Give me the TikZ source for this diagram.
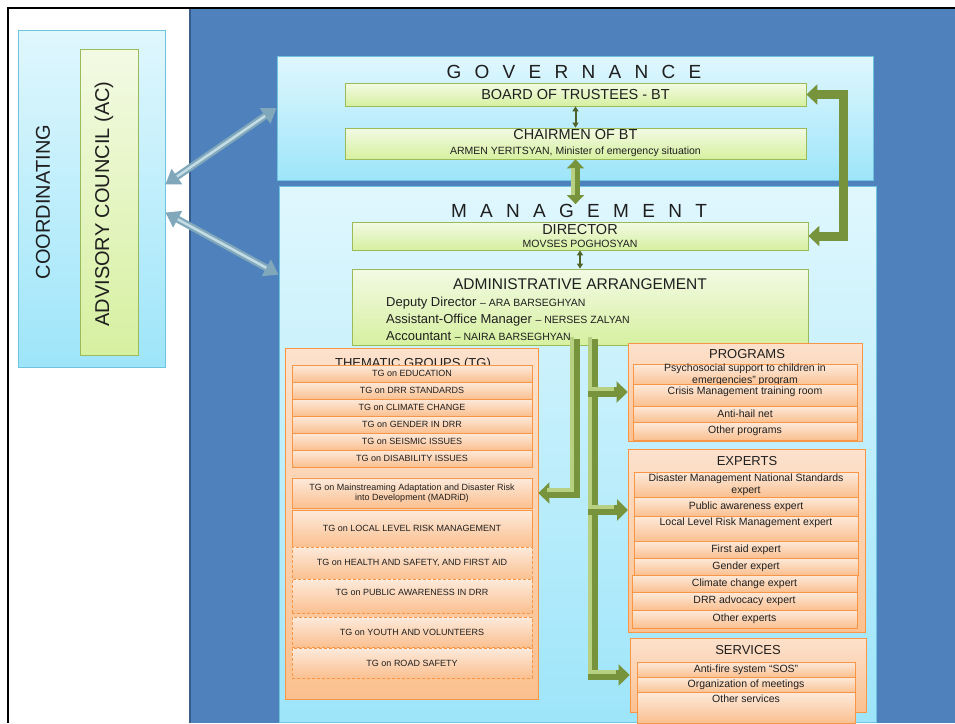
\documentclass[tikz,border=0pt]{standalone}
\usepackage{fontspec}
\setmainfont{Liberation Sans}
\newfontfamily\widefont[LetterSpace=70]{Liberation Sans}
\usetikzlibrary{positioning, arrows.meta}

\definecolor{bgblue}{RGB}{79,129,189}
\definecolor{bgblueedge}{RGB}{56,93,138}
\definecolor{cyantop}{RGB}{224,247,253}
\definecolor{cyanbot}{RGB}{158,229,250}
\definecolor{cyanedge}{RGB}{110,195,222}
\definecolor{greentop}{RGB}{243,250,228}
\definecolor{greenbot}{RGB}{214,240,160}
\definecolor{greenedge}{RGB}{155,187,89}
\definecolor{rowtop}{RGB}{253,234,219}
\definecolor{rowbot}{RGB}{250,192,144}
\definecolor{paneltop}{RGB}{252,225,204}
\definecolor{panelbot}{RGB}{251,192,143}
\definecolor{orangeedge}{RGB}{247,150,70}
\definecolor{arrowolive}{RGB}{119,147,60}
\definecolor{lightolive}{RGB}{184,208,130}
\definecolor{darkolive}{RGB}{79,98,40}
\definecolor{steelblue}{RGB}{128,168,186}
\definecolor{steellight}{RGB}{196,220,230}

\newcommand\sidesize{\fontsize{20}{22}\selectfont}
\newcommand\spreadsize{\widefont\fontsize{19}{21}\selectfont}
\newcommand\boxsize{\fontsize{14.5}{16}\selectfont}
\newcommand\adminsize{\fontsize{15.5}{17}\selectfont}
\newcommand\staffsize{\fontsize{13}{15}\selectfont}
\newcommand\namesize{\fontsize{10.5}{12}\selectfont}
\newcommand\headsize{\fontsize{13}{15}\selectfont}
\newcommand\itemsize{\fontsize{10.5}{12}\selectfont}
\newcommand\rowsize{\fontsize{9}{10.5}\selectfont}

\begin{document}
\begin{tikzpicture}[x=1pt, y=-1pt,
    every node/.style={inner sep=0pt, text=black!88},
    panel/.style={draw=cyanedge, line width=0.8pt, top color=cyantop, bottom color=cyanbot},
    greenbox/.style={draw=greenedge, line width=0.8pt, top color=greentop, bottom color=greenbot, align=center},
    orangepanel/.style={draw=orangeedge, line width=0.8pt, top color=paneltop, bottom color=panelbot},
    orangerow/.style={draw=orangeedge, line width=0.8pt, top color=rowtop, bottom color=rowbot, align=center, font=\itemsize},
    tgrow/.style={orangerow, font=\rowsize, minimum width=240pt},
    dashedrow/.style={tgrow, dash pattern=on 3pt off 2pt},
    smallarrow/.style={draw=darkolive, line width=2pt, {Triangle[width=6pt,length=5pt]}-{Triangle[width=6pt,length=5pt]}},
    trunk/.style={draw=arrowolive, line width=9pt, {Triangle[width=17pt,length=9pt]}-{Triangle[width=17pt,length=9pt]},
        postaction={draw=lightolive, line width=3.5pt, -, shorten >=9pt, shorten <=9pt,
            transform canvas={xshift=-2.5pt}}},
    elbow/.style={draw=arrowolive, line width=9pt, {Triangle[width=20pt,length=11pt]}-{Triangle[width=20pt,length=11pt]}},
    branch/.style={draw=arrowolive, line width=10pt, -{Triangle[width=21pt,length=11pt]},
        postaction={draw=lightolive, line width=4pt, -, shorten >=11pt,
            transform canvas={xshift=-2.8pt, yshift=2.8pt}}},
    steelarrow/.style={draw=steelblue, line width=7pt, {Triangle[width=18pt,length=14pt]}-{Triangle[width=18pt,length=14pt]},
        postaction={draw=steellight, line width=2.5pt, -, shorten >=14pt, shorten <=14pt}}
]
    \useasboundingbox (0,0) rectangle (955,723);
    \fill[white] (0,0) rectangle (955,723);
    \fill[bgblue] (190,9) rectangle (955,723);
    \draw[bgblueedge, line width=1.5pt] (190,9) -- (190,723);
    \draw[black, line width=2.5pt] (8,723) -- (8,8) -- (955,8);

    % coordinating side
    \node[panel, minimum width=147pt, minimum height=337pt] (coord) at (91.5,198.5) {};
    \node[font=\sidesize, rotate=90] (coordtext) at (43,202) {COORDINATING};
    \node[greenbox, minimum width=58pt, minimum height=306pt] (ac) at (109,202) {};
    \node[font=\sidesize, rotate=90] (actext) at (104,204) {ADVISORY COUNCIL (AC)};

    % governance
    \node[panel, minimum width=596pt, minimum height=124pt] (gov) at (575,118) {};
    \node[font=\spreadsize] (govtitle) at (574,72) {GOVERNANCE};
    \node[greenbox, minimum width=461pt, minimum height=23pt, font=\boxsize] (bt) at (575.5,94.5) {BOARD OF TRUSTEES - BT};
    \node[greenbox, minimum width=461pt, minimum height=31pt, font=\boxsize] (chair) at (575.5,143.5)
        {CHAIRMEN OF BT\\[-1pt]{\namesize ARMEN YERITSYAN, Minister of emergency situation}};

    % management
    \node[panel, minimum width=597pt, minimum height=536pt] (mgmt) at (577.5,454) {};
    \node[font=\spreadsize] (mgmttitle) at (579,211) {MANAGEMENT};
    \node[greenbox, minimum width=456pt, minimum height=28pt, font=\boxsize] (dir) at (580,236)
        {DIRECTOR\\[-3pt]{\namesize MOVSES POGHOSYAN}};
    \node[greenbox, minimum width=456pt, minimum height=76pt] (admin) at (580,307) {};
    \node[font=\adminsize] (admintitle) at (580,284) {ADMINISTRATIVE ARRANGEMENT};
    \node[font=\staffsize, anchor=base west] (deputy) at (386,306) {Deputy Director {\namesize -- ARA BARSEGHYAN}};
    \node[font=\staffsize, anchor=base west] (assistant) at (386,323) {Assistant-Office Manager {\namesize -- NERSES ZALYAN}};
    \node[font=\staffsize, anchor=base west] (accountant) at (386,340) {Accountant {\namesize -- NAIRA BARSEGHYAN}};

    % thematic groups
    \node[orangepanel, minimum width=253pt, minimum height=351pt] (tg) at (411.5,523.5) {};
    \node[font=\headsize, anchor=base] (tgtitle) at (413,367) {THEMATIC GROUPS (TG)};
    \foreach \name/\topic [count=\i from 0] in {edu/EDUCATION, drrstd/DRR STANDARDS, climate/CLIMATE CHANGE,
        gender/GENDER IN DRR, seismic/SEISMIC ISSUES, disability/DISABILITY ISSUES}
        \node[tgrow, minimum height=17pt] (\name) at (412,373.5+17*\i) {TG on \topic};
    \node[tgrow, minimum height=30pt] (madrid) at (412,493)
        {TG on Mainstreaming Adaptation and Disaster Risk\\into Development (MADRiD)};
    \node[tgrow, minimum height=37pt] (local) at (412,528.5) {TG on LOCAL LEVEL RISK MANAGEMENT};
    \node[dashedrow, minimum height=32pt] (health) at (412,563) {TG on HEALTH AND SAFETY, AND FIRST AID};
    \node[dashedrow, minimum height=34pt, text depth=7pt] (publicdrr) at (412,596) {TG on PUBLIC AWARENESS IN DRR};
    \node[dashedrow, minimum height=30pt] (youth) at (412,632) {TG on YOUTH AND VOLUNTEERS};
    \node[dashedrow, minimum height=30pt] (road) at (412,663) {TG on ROAD SAFETY};

    % programs
    \node[orangepanel, minimum width=234pt, minimum height=98pt] (prog) at (745,392) {};
    \node[font=\headsize] (progtitle) at (747,354) {PROGRAMS};
    \node[orangerow, minimum width=224pt, minimum height=22pt] (psycho) at (745,375)
        {Psychosocial support to children in\\emergencies” program};
    \node[orangerow, minimum width=224pt, minimum height=22pt, text depth=8.5pt] (crisis) at (745,395) {Crisis Management training room};
    \node[orangerow, minimum width=224pt, minimum height=16pt] (antihail) at (745,414) {Anti-hail net};
    \node[orangerow, minimum width=224pt, minimum height=18pt] (otherprog) at (745,431) {Other programs};

    % experts
    \node[orangepanel, minimum width=237pt, minimum height=183pt] (exp) at (746.5,540.5) {};
    \node[font=\headsize] (exptitle) at (747,461) {EXPERTS};
    \node[orangerow, minimum width=224pt, minimum height=25pt] (dmns) at (746,484.5)
        {Disaster Management National Standards\\expert};
    \node[orangerow, minimum width=224pt, minimum height=19pt] (pubexp) at (746,506.5) {Public awareness expert};
    \node[orangerow, minimum width=224pt, minimum height=25pt, text depth=13pt] (llrm) at (746,528.5) {Local Level Risk Management expert};
    \node[orangerow, minimum width=224pt, minimum height=17pt] (firstaid) at (746,549.5) {First aid expert};
    \node[orangerow, minimum width=224pt, minimum height=17pt] (genderexp) at (746,566.5) {Gender expert};
    \node[orangerow, minimum width=225pt, minimum height=17pt] (climateexp) at (744.5,583.5) {Climate change expert};
    \node[orangerow, minimum width=225pt, minimum height=18pt] (drradv) at (744.5,601) {DRR advocacy expert};
    \node[orangerow, minimum width=225pt, minimum height=18pt] (otherexp) at (744.5,619) {Other experts};

    % services
    \node[orangepanel, minimum width=236pt, minimum height=74pt] (serv) at (748,675) {};
    \node[font=\headsize] (servtitle) at (748,650) {SERVICES};
    \node[orangerow, minimum width=218pt, minimum height=15pt] (antifire) at (746,669.5) {Anti-fire system “SOS”};
    \node[orangerow, minimum width=218pt, minimum height=16pt] (meetings) at (746,685) {Organization of meetings};
    \node[orangerow, minimum width=218pt, minimum height=31pt, text depth=17pt] (otherserv) at (746,707.5) {Other services};

    % connectors
    \coordinate (expin) at (628,510);
    \draw[steelarrow] ([yshift=14pt]coord.east) -- ([yshift=10pt]gov.west);
    \draw[steelarrow] ([yshift=-14pt]coord.east) -- ([yshift=-89pt]mgmt.north west);
    \draw[smallarrow] (bt) -- (chair);
    \draw[smallarrow] (dir) -- (admin);
    \draw[trunk] (chair.south) -- (chair.south |- mgmttitle.north);
    \draw[elbow] (bt.east) -- ++(37,0) |- (dir.east);
    \draw[branch] ([xshift=-5pt, yshift=6pt]admin.south) |- (madrid.east -| tg.east);
    \draw[branch] ([xshift=13pt, yshift=6pt]admin.south) |- (serv.west);
    \draw[branch] ([xshift=13pt, yshift=6pt]admin.south) |- (expin);
    \draw[branch] ([xshift=13pt, yshift=6pt]admin.south) |- (prog.west);
\end{tikzpicture}
\end{document}
